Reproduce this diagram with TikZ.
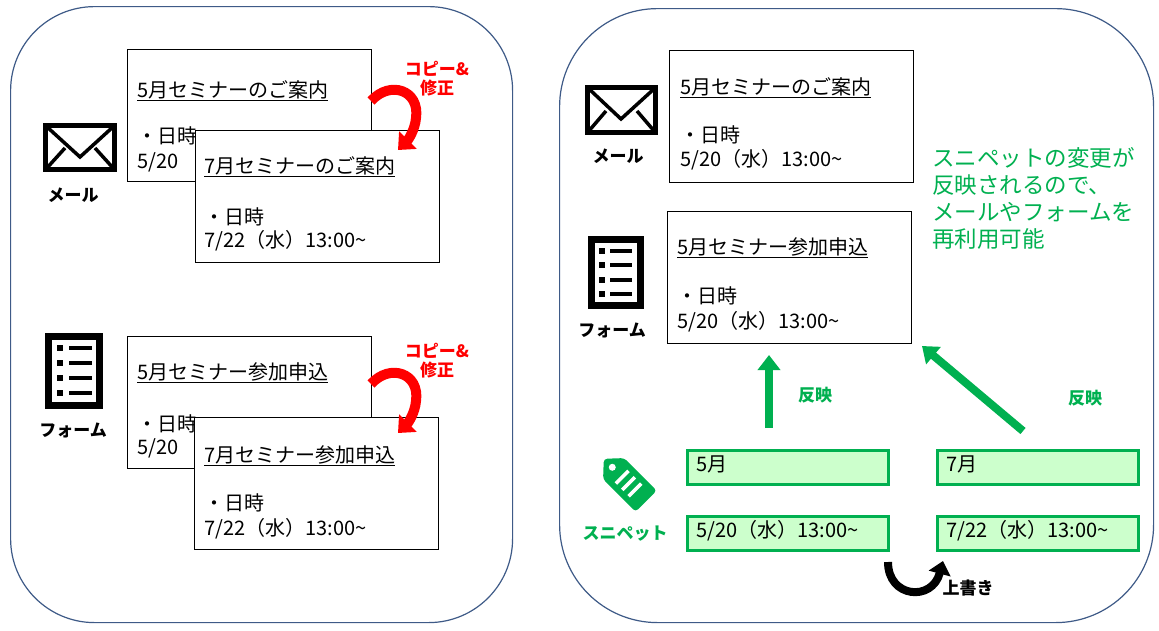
\documentclass[tikz,border=0pt]{standalone}
\usepackage{fontspec}
\newfontfamily\jp{Noto Sans CJK JP}
\usetikzlibrary{arrows.meta}
\definecolor{pborder}{HTML}{3E5A87}
\definecolor{gr}{HTML}{00B050}
\definecolor{lgr}{HTML}{CCFFCC}
\definecolor{rd}{HTML}{FF0000}
\begin{document}
\begin{tikzpicture}[x=1pt,y=-1pt,
  panel/.style={draw=pborder,line width=1.2pt,anchor=north west,inner sep=0pt},
  docbox/.style={draw=black,fill=white,line width=0.9pt,anchor=north west,minimum width=244pt,minimum height=132pt,inner sep=0pt},
  snip/.style={draw=gr,fill=lgr,line width=3pt,anchor=north west,minimum width=201pt,minimum height=34pt,inner sep=0pt},
  txt/.style={anchor=west,inner sep=0pt,text height=16pt,text depth=4pt,font=\jp\fontsize{20}{24}\selectfont},
  lbl/.style={inner sep=0pt,font=\jp\bfseries\fontsize{17}{19}\selectfont},
  redarrow/.style={draw=rd,line width=10pt,-{Triangle[width=24pt,length=14pt]}},
  grarrow/.style={draw=gr,line width=8pt,-{Triangle[width=22pt,length=15pt]}},
  blkarrow/.style={draw=black,line width=8pt,-{Triangle[width=22pt,length=13pt]}}
]
\useasboundingbox (0,0) rectangle (1159,630);
% panels
\node[panel,rounded corners=84pt,minimum width=502pt,minimum height=616pt] (lp) at (10,6) {};
\node[panel,rounded corners=98pt,minimum width=594pt,minimum height=614pt] (rp) at (559,8) {};

% ---------- left: mail ----------
\draw[line width=5pt] (45.5,125.5) rectangle (114.5,169.5);
\draw[line width=3.5pt,line join=miter] (46,126) -- (80,157) -- (114,126);
\draw[line width=3.5pt] (46,169) -- (65,148);
\draw[line width=3.5pt] (114,169) -- (95,148);
\node[lbl] (mail1) at (73,195) {メール};

\node[docbox] (m1) at (127,49) {};
\node[txt] (m1a) at (137,91) {\underline{5月セミナーのご案内}};
\node[txt] (m1b) at (137,137) {・日時};
\node[txt] (m1c) at (137,162) {5/20};
\node[docbox] (m2) at (195,130) {};
\node[txt] (m2a) at (204,167) {\underline{7月セミナーのご案内}};
\node[txt] (m2b) at (204,218) {・日時};
\node[txt] (m2c) at (204,241) {7/22（水）13:00\textasciitilde};

\coordinate (r1s) at (371,101);
\coordinate (r1m) at (416,118);
\coordinate (r1e) at (398,150);
\draw[redarrow] (r1s) .. controls (390,80) and (420,90) .. (r1m) .. controls (415,130) and (408,140) .. (r1e);
\node[lbl,text=rd,align=center] (cp1) at (437,79) {コピー\&\\修正};

% ---------- left: form ----------
\draw[line width=7pt] (48.5,336.5) rectangle (99.5,405.5);
\foreach \yy in {348,363,378,393}{
  \fill (57,\yy-3) rectangle (63,\yy+3);
  \fill (69,\yy-2) rectangle (92,\yy+2);
}
\node[lbl] (form1) at (73,430) {フォーム};

\node[docbox] (f1) at (127,336) {};
\node[txt] (f1a) at (137,373) {\underline{5月セミナー参加申込}};
\node[txt] (f1b) at (137,425) {・日時};
\node[txt] (f1c) at (137,448) {5/20};
\node[docbox] (f2) at (194,417) {};
\node[txt] (f2a) at (204,456) {\underline{7月セミナー参加申込}};
\node[txt] (f2b) at (204,504) {・日時};
\node[txt] (f2c) at (204,529) {7/22（水）13:00\textasciitilde};

\coordinate (r2s) at (371,384);
\coordinate (r2m) at (416,401);
\coordinate (r2e) at (398,433);
\draw[redarrow] (r2s) .. controls (390,363) and (420,373) .. (r2m) .. controls (415,413) and (408,423) .. (r2e);
\node[lbl,text=rd,align=center] (cp2) at (437,361) {コピー\&\\修正};

% ---------- right: mail ----------
\draw[line width=5pt] (587.5,87.5) rectangle (655.5,132.5);
\draw[line width=3.5pt,line join=miter] (588,88) -- (621,119) -- (655,88);
\draw[line width=3.5pt] (588,132) -- (606,111);
\draw[line width=3.5pt] (655,132) -- (637,111);
\node[lbl] (mail2) at (618,156) {メール};

\node[docbox] (rm) at (669,50) {};
\node[txt] (rma) at (680,88) {\underline{5月セミナーのご案内}};
\node[txt] (rmb) at (680,136) {・日時};
\node[txt] (rmc) at (680,160) {5/20（水）13:00\textasciitilde};

% ---------- right: form ----------
\draw[line width=7pt] (591.5,239.5) rectangle (640.5,305.5);
\foreach \yy in {251,265,280,294}{
  \fill (599,\yy-3) rectangle (605,\yy+3);
  \fill (610,\yy-2) rectangle (632,\yy+2);
}
\node[lbl] (form2) at (612,330) {フォーム};

\node[docbox] (rf) at (667,211) {};
\node[txt] (rfa) at (677,248) {\underline{5月セミナー参加申込}};
\node[txt] (rfb) at (677,297) {・日時};
\node[txt] (rfc) at (677,322) {5/20（水）13:00\textasciitilde};

% note
\node[anchor=north west,align=left,inner sep=0pt,text=gr,font=\jp\fontsize{22.5}{27}\selectfont] (note) at (932,147)
  {スニペットの変更が\\反映されるので、\\メールやフォームを\\再利用可能};

% snippets
\node[snip] (s1) at (686,449) {};
\node[txt] (s1t) at (696,465) {5月};
\node[snip] (s2) at (936,449) {};
\node[txt] (s2t) at (946,465) {7月};
\node[snip] (s3) at (686,515) {};
\node[txt] (s3t) at (696,531) {5/20（水）13:00\textasciitilde};
\node[snip] (s4) at (936,515) {};
\node[txt] (s4t) at (946,531) {7/22（水）13:00\textasciitilde};

% tag icon
\begin{scope}[shift={(625,480)},rotate=-45]
  \fill[gr,rounded corners=3.5pt] (-30,0) -- (-16,-15) -- (30,-15) -- (30,15) -- (-16,15) -- cycle;
  \fill[white] (-18,0) circle (3.5pt);
  \foreach \xx in {-4,5,14}{
    \draw[white,line width=3.5pt] (\xx,-9) -- (\xx,9);
  }
\end{scope}
\node[lbl,text=gr] (snl) at (625,534) {スニペット};

% green arrows
\coordinate (g1s) at (769,428);
\coordinate (g1e) at (769,355);
\draw[grarrow] (g1s) -- (g1e);
\node[lbl,text=gr] (rf1) at (815,395) {反映};
\coordinate (g2s) at (1023,431);
\coordinate (g2e) at (922,346);
\draw[grarrow] (g2s) -- (g2e);
\node[lbl,text=gr] (rf2) at (1085,398) {反映};

% overwrite arrow
\coordinate (b1s) at (888,562);
\coordinate (b1e) at (943,561);
\draw[blkarrow] (b1s) .. controls (888,598) and (932,602) .. (b1e);
\node[lbl] (uw) at (968,588) {上書き};
\end{tikzpicture}
\end{document}
